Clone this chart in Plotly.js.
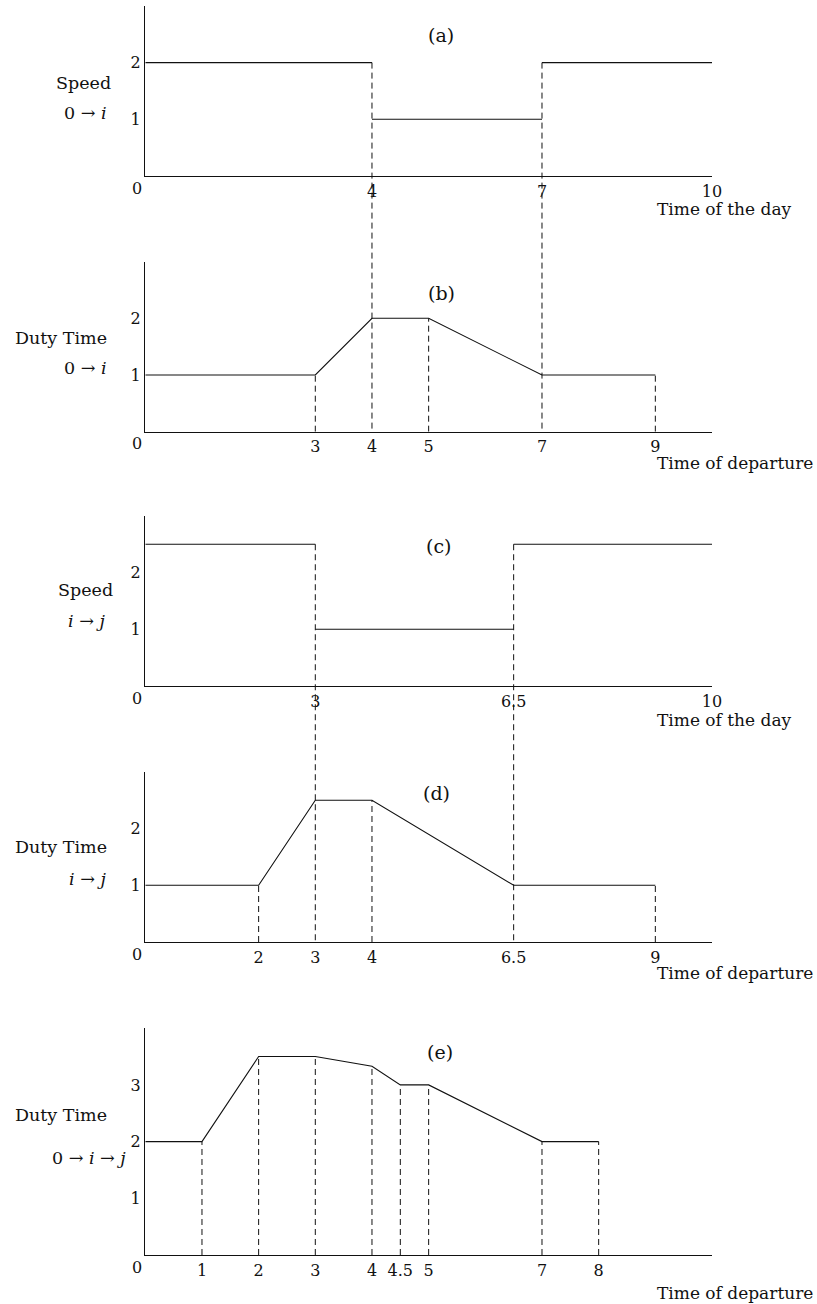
<!DOCTYPE html>
<html>
<head>
<meta charset="utf-8">
<script src="https://cdn.plot.ly/plotly-3.0.1.min.js"></script>
<style>body{margin:0;background:#fff}#chart{width:817px;height:1304px}</style>
</head>
<body>
<div id="chart"></div>
<script>
// (a) speed 0 -> i over the day: breakpoints and the level between them
var speedA_t = [0, 4, 7, 10];
var speedA_v = [2, 1, 2];
// (b) duty time 0 -> i by time of departure
var dutyB_t = [0, 3, 4, 5, 7, 9];
var dutyB_v = [1, 1, 2, 2, 1, 1];
// (c) speed i -> j
var speedC_t = [0, 3, 6.5, 10];
var speedC_v = [2.5, 1, 2.5];
// (d) duty time i -> j
var dutyD_t = [0, 2, 3, 4, 6.5, 9];
var dutyD_v = [1, 1, 2.5, 2.5, 1, 1];
// (e) duty time 0 -> i -> j
var dutyE_t = [0, 1, 2, 3, 4, 4.5, 5, 7, 8];
var dutyE_v = [2, 2, 3.5, 3.5, 3.33, 3, 3, 2, 2];

// dashed drops to the axis inside a panel
var dropsB = [3, 5, 9];
var dropsD = [2, 4, 9];
var dropsE = [1, 2, 3, 4, 4.5, 5, 7, 8];
// dashed links from a speed change down to the duty-time panel below
var linksAB = [4, 7];
var linksCD = [3, 6.5];

var ticksA = [4, 7, 10];
var ticksB = [3, 4, 5, 7, 9];
var ticksC = [3, 6.5, 10];
var ticksD = [2, 3, 4, 6.5, 9];
var ticksE = [1, 2, 3, 4, 4.5, 5, 7, 8];

var panelTag = ['(a)', '(b)', '(c)', '(d)', '(e)'];
var leftTop = ['Speed', 'Duty Time', 'Speed', 'Duty Time', 'Duty Time'];
var leftBot = ['0 \u2192 <i>i</i>', '0 \u2192 <i>i</i>', '<i>i</i> \u2192 <i>j</i>', '<i>i</i> \u2192 <i>j</i>', '0 \u2192 <i>i</i> \u2192 <i>j</i>'];
var xTitle = ['Time of the day', 'Time of departure', 'Time of the day', 'Time of departure', 'Time of departure'];

// page geometry (pixels)
var W = 817, H = 1304;
var x0px = 145.3, x1px = 712, unit = 56.7;
var axisPx = [176, 431.7, 686, 942, 1255];
var yMax = [3, 3, 3, 3, 4];
var font = 'DejaVu Serif';
var ink = '#111';

function fx(p) { return p / W; }
function fy(p) { return 1 - p / H; }
function dom(k) { return [fy(axisPx[k]), fy(axisPx[k] - yMax[k] * unit)]; }
function paperY(k, v) { var d = dom(k); return d[0] + v / yMax[k] * (d[1] - d[0]); }
function valAt(ts, vs, t) { return vs[ts.indexOf(t)]; }

var data = [];
function solid(k, x, y) {
  var s = k === 0 ? '' : String(k + 1);
  data.push({x: x, y: y, xaxis: 'x' + s, yaxis: 'y' + s, type: 'scatter', mode: 'lines',
    line: {color: ink, width: 1.1}, hoverinfo: 'skip', showlegend: false});
}
function dashed(k, x, y) {
  var s = k === 0 ? '' : String(k + 1);
  data.push({x: x, y: y, xaxis: 'x' + s, yaxis: 'y' + s, type: 'scatter', mode: 'lines',
    line: {color: ink, width: 1, dash: '6px,4px'}, hoverinfo: 'skip', showlegend: false});
}
function steps(k, ts, vs) {
  var x = [], y = [];
  for (var i = 0; i < vs.length; i++) {
    x.push(ts[i], ts[i + 1], null);
    y.push(vs[i], vs[i], null);
  }
  solid(k, x, y);
}
function drops(k, ts, vs, at) {
  var x = [], y = [];
  at.forEach(function (t) { x.push(t, t, null); y.push(0, valAt(ts, vs, t), null); });
  dashed(k, x, y);
}

steps(0, speedA_t, speedA_v);
solid(1, dutyB_t, dutyB_v);
drops(1, dutyB_t, dutyB_v, dropsB);
steps(2, speedC_t, speedC_v);
solid(3, dutyD_t, dutyD_v);
drops(3, dutyD_t, dutyD_v, dropsD);
solid(4, dutyE_t, dutyE_v);
drops(4, dutyE_t, dutyE_v, dropsE);

var shapes = [];
function links(kUp, ts, vs, at) {
  at.forEach(function (t) {
    var i = ts.indexOf(t);
    var top = Math.max(vs[i - 1], vs[i]);
    shapes.push({type: 'line', xref: 'x', yref: 'paper', x0: t, x1: t,
      y0: paperY(kUp, top), y1: paperY(kUp + 1, 0),
      line: {color: ink, width: 1, dash: '6px,4px'}});
  });
}
links(0, speedA_t, speedA_v, linksAB);
links(2, speedC_t, speedC_v, linksCD);

var tickSets = [ticksA, ticksB, ticksC, ticksD, ticksE];
var layout = {
  width: W, height: H,
  margin: {l: 0, r: 0, t: 0, b: 0},
  paper_bgcolor: '#fff', plot_bgcolor: 'rgba(0,0,0,0)',
  font: {family: font, size: 16, color: ink},
  showlegend: false,
  shapes: shapes,
  annotations: []
};

// placement of the text around each panel (pixels)
var tagPos = [[441, 35], [441, 293], [438, 546], [437, 793], [440, 1052]];
var leftTopPos = [[113, 83], [109, 338], [115, 590], [109, 847], [109, 1115]];
var leftBotPos = [[109, 113], [109, 368], [107, 621], [108, 879], [128, 1158]];
var xTitleY = [209, 463, 720, 973, 1293];

for (var k = 0; k < 5; k++) {
  var s = k === 0 ? '' : String(k + 1);
  var yt = [];
  for (var v = 1; v < yMax[k]; v++) yt.push(v);
  layout['xaxis' + s] = {
    domain: [fx(x0px), fx(x1px)], range: [0, 10], anchor: 'y' + s,
    showline: true, linecolor: ink, linewidth: 1.3, mirror: false,
    showgrid: false, zeroline: false, ticks: '', tickvals: tickSets[k],
    ticktext: tickSets[k].map(String), ticklabelstandoff: 0,
    tickfont: {family: font, size: 16, color: ink}, fixedrange: true
  };
  layout['yaxis' + s] = {
    domain: dom(k), range: [0, yMax[k]], anchor: 'x' + s,
    showline: true, linecolor: ink, linewidth: 1.3,
    showgrid: false, zeroline: false, ticks: '', tickvals: yt,
    ticklabelstandoff: 0,
    tickfont: {family: font, size: 16, color: ink}, fixedrange: true
  };
  var A = layout.annotations;
  A.push({xref: 'paper', yref: 'paper', x: fx(tagPos[k][0]), y: fy(tagPos[k][1]),
    text: panelTag[k], showarrow: false, xanchor: 'center', yanchor: 'middle',
    font: {family: font, size: 19, color: ink}});
  A.push({xref: 'paper', yref: 'paper', x: fx(leftTopPos[k][0]), y: fy(leftTopPos[k][1]),
    text: leftTop[k], showarrow: false, xanchor: 'right', yanchor: 'middle',
    font: {family: font, size: 17.5, color: ink}});
  A.push({xref: 'paper', yref: 'paper', x: fx(leftBotPos[k][0]), y: fy(leftBotPos[k][1]),
    text: leftBot[k], showarrow: false, xanchor: 'right', yanchor: 'middle',
    font: {family: font, size: 17.5, color: ink}});
  A.push({xref: 'paper', yref: 'paper', x: fx(655), y: fy(xTitleY[k]),
    text: xTitle[k], showarrow: false, xanchor: 'left', yanchor: 'middle',
    font: {family: font, size: 17, color: ink}});
  // the origin "0" sits a little left of the corner
  A.push({xref: 'x' + s, yref: 'paper', x: 0, y: fy(axisPx[k] + 12),
    text: '0', showarrow: false, xanchor: 'center', yanchor: 'middle', xshift: -8,
    font: {family: font, size: 16, color: ink}});
}

Plotly.newPlot('chart', data, layout, {displayModeBar: false, staticPlot: true});
</script>
</body>
</html>
